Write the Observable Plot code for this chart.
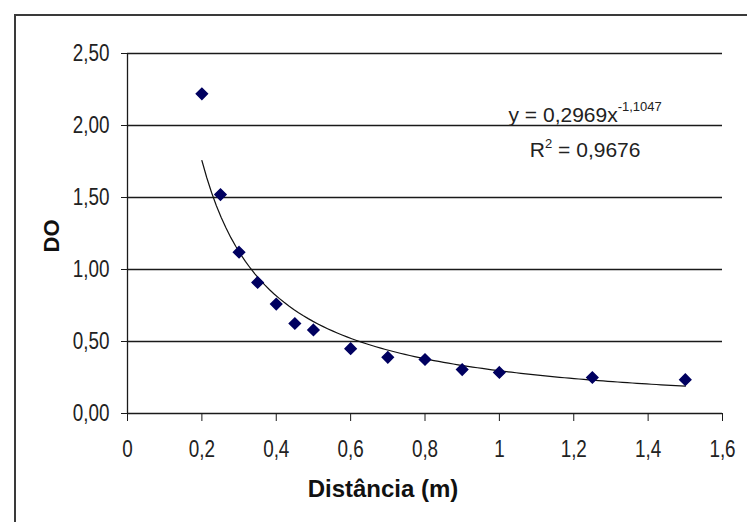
<!DOCTYPE html>
<html>
<head>
<meta charset="utf-8">
<script src="https://cdn.jsdelivr.net/npm/d3@7"></script>
<script src="https://cdn.jsdelivr.net/npm/@observablehq/plot@0.6"></script>
<style>
  html, body { margin: 0; padding: 0; background: #fff; overflow: hidden; }
  #wrap { position: relative; width: 747px; height: 522px; }
  #border { position: absolute; left: 14px; top: 14px; width: 800px; height: 600px;
            border: 2px solid #3a3a3a; pointer-events: none; }
  svg { font-family: "Liberation Sans", Arial, sans-serif; }
</style>
</head>
<body>
<div id="wrap"><div id="border"></div></div>
<script>
// Data
const distancia = [0.2, 0.25, 0.3, 0.35, 0.4, 0.45, 0.5, 0.6, 0.7, 0.8, 0.9, 1.0, 1.25, 1.5];
const doValues  = [2.22, 1.52, 1.12, 0.91, 0.76, 0.625, 0.58, 0.45, 0.39, 0.375, 0.305, 0.285, 0.25, 0.235];
const xTicks = [0, 0.2, 0.4, 0.6, 0.8, 1, 1.2, 1.4, 1.6];
const xTickLabels = ["0", "0,2", "0,4", "0,6", "0,8", "1", "1,2", "1,4", "1,6"];
const yTicks = [0, 0.5, 1, 1.5, 2, 2.5];
const yTickLabels = ["0,00", "0,50", "1,00", "1,50", "2,00", "2,50"];
// Power trendline as printed on the chart: y = 0,2969 x^-1,1047
const fitCoef = 0.2969, fitExp = -1.1047;
const equationText = "y = 0,2969x", equationExp = "-1,1047";
const r2Text = "= 0,9676";
const xLabel = "Distância (m)", yLabel = "DO";

const points = distancia.map((x, i) => ({x, y: doValues[i]}));
const xMin = d3.min(distancia), xMax = d3.max(distancia);
const fitX = d3.range(0, 101).map(i => xMin + (xMax - xMin) * i / 100);
const fit = fitX.map(x => ({x, y: fitCoef * Math.pow(x, fitExp)}));

const xFmt = v => xTickLabels[xTicks.indexOf(v)];
const yFmt = v => yTickLabels[yTicks.indexOf(v)];

const chart = Plot.plot({
  width: 747, height: 522,
  marginLeft: 127, marginRight: 25, marginTop: 53, marginBottom: 109,
  style: {fontFamily: '"Liberation Sans", Arial, sans-serif', background: "transparent"},
  x: {domain: [0, 1.6]},
  y: {domain: [0, 2.5]},
  marks: [
    Plot.ruleY(yTicks.filter(d => d > 0), {x1: 0, x2: 1.6, stroke: "#1a1a1a", strokeWidth: 1.6}),
    Plot.ruleY([0], {x1: 0, x2: 1.6, stroke: "#1a1a1a", strokeWidth: 1.3}),
    Plot.ruleX([0], {y1: 0, y2: 2.5, stroke: "#1a1a1a", strokeWidth: 1.3}),
    Plot.axisY({ticks: yTicks, tickFormat: yFmt, tickSize: 6, tickPadding: 12, fontSize: 23,
                label: null, stroke: "#1a1a1a", fill: "#222"}),
    Plot.axisX({ticks: xTicks, tickFormat: xFmt, tickSize: 8, tickPadding: 19, fontSize: 23,
                label: null, stroke: "#1a1a1a", fill: "#222"}),
    Plot.line(fit, {x: "x", y: "y", stroke: "#111", strokeWidth: 1.2, curve: "linear"}),
    Plot.dot(points, {x: "x", y: "y", symbol: "diamond2", r: 5, fill: "#000060", stroke: "#000060"})
  ]
});

const svg = d3.select(chart);
const sx = chart.scale("x"), sy = chart.scale("y");

// Trendline equation
const eq = svg.append("text").attr("x", sx.apply(1.232)).attr("y", sy.apply(2.0) - 3)
  .attr("text-anchor", "middle").attr("font-size", 21).attr("fill", "#222");
eq.append("tspan").text(equationText);
eq.append("tspan").attr("font-size", 13).attr("dy", -11).text(equationExp);

const r2 = svg.append("text").attr("x", sx.apply(1.232)).attr("y", sy.apply(1.78))
  .attr("text-anchor", "middle").attr("font-size", 21).attr("fill", "#222");
r2.append("tspan").text("R");
r2.append("tspan").attr("font-size", 13).attr("dy", -9).text("2");
r2.append("tspan").attr("dy", 9).text(" " + r2Text);

// Axis titles
svg.append("text").attr("x", 383).attr("y", 497).attr("text-anchor", "middle")
  .attr("font-size", 24).attr("font-weight", "bold").attr("fill", "#111").text(xLabel);
svg.append("text").attr("transform", "translate(59,236) rotate(-90)").attr("text-anchor", "middle")
  .attr("font-size", 22).attr("font-weight", "bold").attr("fill", "#111").text(yLabel);

document.getElementById("wrap").prepend(chart);

// Tick labels in the original are tall and narrow: compress them horizontally
svg.selectAll('g[aria-label="x-axis tick label"] text, g[aria-label="y-axis tick label"] text')
  .each(function() {
    const w = this.getComputedTextLength();
    if (w > 0) {
      this.setAttribute("textLength", (w * 0.82).toFixed(2));
      this.setAttribute("lengthAdjust", "spacingAndGlyphs");
    }
  });
</script>
</body>
</html>
